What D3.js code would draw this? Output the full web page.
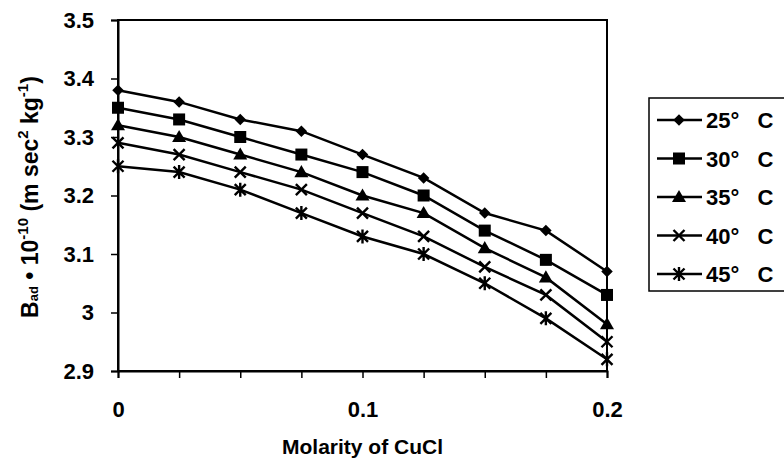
<!DOCTYPE html>
<html>
<head>
<meta charset="utf-8">
<script src="https://cdn.jsdelivr.net/npm/d3@7"></script>
<style>
  body { margin: 0; background: #fff; }
  svg { display: block; font-family: "Liberation Sans", Arial, sans-serif; font-weight: bold; }
</style>
</head>
<body>
<div id="chart"></div>
<script>
// data
var molarity = [0, 0.025, 0.05, 0.075, 0.1, 0.125, 0.15, 0.175, 0.2];
var temps = ["25° C", "30° C", "35° C", "40° C", "45° C"];
var b25 = [3.38, 3.36, 3.33, 3.31, 3.27, 3.23, 3.17, 3.14, 3.07];
var b30 = [3.35, 3.33, 3.30, 3.27, 3.24, 3.20, 3.14, 3.09, 3.03];
var b35 = [3.32, 3.30, 3.27, 3.24, 3.20, 3.17, 3.11, 3.06, 2.98];
var b40 = [3.29, 3.27, 3.24, 3.21, 3.17, 3.13, 3.078, 3.03, 2.95];
var b45 = [3.25, 3.24, 3.21, 3.17, 3.13, 3.10, 3.05, 2.99, 2.92];
var yTicks = [2.9, 3, 3.1, 3.2, 3.3, 3.4, 3.5];
var xTickLabels = [0, 0.1, 0.2];

var series = [b25, b30, b35, b40, b45];
var markers = ["diamond", "square", "triangle", "cross", "star"];

var width = 784, height = 458;
var margin = { top: 20, right: 177, bottom: 87, left: 118 };

var svg = d3.select("#chart").append("svg")
  .attr("width", width).attr("height", height);

var x = d3.scaleLinear().domain([0, 0.2]).range([margin.left, width - margin.right]);
var y = d3.scaleLinear().domain([2.9, 3.5]).range([height - margin.bottom, margin.top]);

// plot frame
svg.append("rect")
  .attr("x", x(0)).attr("y", y(3.5))
  .attr("width", x(0.2) - x(0)).attr("height", y(2.9) - y(3.5))
  .attr("fill", "none").attr("stroke", "#000").attr("stroke-width", 2);

// axes
var xAxis = d3.axisBottom(x).tickValues(molarity).tickSize(7)
  .tickFormat(function(d) { return xTickLabels.indexOf(d) >= 0 ? d3.format("")(d) : ""; });
svg.append("g").attr("transform", "translate(0," + y(2.9) + ")").call(xAxis)
  .call(function(g) {
    g.select(".domain").attr("stroke-width", 2);
    g.selectAll(".tick line").attr("stroke-width", 1.5);
    g.selectAll("text").attr("font-size", 22).attr("dy", 0).attr("y", 46).attr("fill", "#000")
      .style("font-family", "inherit");
  });

var yAxis = d3.axisLeft(y).tickValues(yTicks).tickSize(7).tickFormat(d3.format(""));
svg.append("g").attr("transform", "translate(" + x(0) + ",0)").call(yAxis)
  .call(function(g) {
    g.select(".domain").attr("stroke-width", 2);
    g.selectAll(".tick line").attr("stroke-width", 1.5);
    g.selectAll("text").attr("font-size", 22).attr("x", -24).attr("fill", "#000")
      .style("font-family", "inherit");
  });

// markers
function drawMarker(g, type, cx, cy) {
  if (type === "diamond") {
    g.append("path").attr("d", d3.symbol(d3.symbolDiamond2, 85)()).attr("transform", "translate(" + cx + "," + cy + ")").attr("fill", "#000");
  } else if (type === "square") {
    g.append("rect").attr("x", cx - 6).attr("y", cy - 6).attr("width", 12).attr("height", 12).attr("fill", "#000");
  } else if (type === "triangle") {
    g.append("path").attr("d", d3.symbol(d3.symbolTriangle, 85)()).attr("transform", "translate(" + cx + "," + (cy + 1) + ")").attr("fill", "#000");
  } else if (type === "cross") {
    g.append("path").attr("d", "M-5.5,-5.5L5.5,5.5M-5.5,5.5L5.5,-5.5").attr("transform", "translate(" + cx + "," + cy + ")")
      .attr("stroke", "#000").attr("stroke-width", 2.4);
  } else {
    g.append("path").attr("d", "M-5.5,-5.5L5.5,5.5M-5.5,5.5L5.5,-5.5M0,-7L0,7").attr("transform", "translate(" + cx + "," + cy + ")")
      .attr("stroke", "#000").attr("stroke-width", 2.4);
  }
}

var line = d3.line()
  .x(function(d, i) { return x(molarity[i]); })
  .y(function(d) { return y(d); });

series.forEach(function(vals, s) {
  svg.append("path").datum(vals).attr("d", line)
    .attr("fill", "none").attr("stroke", "#000").attr("stroke-width", 2.5);
  var g = svg.append("g");
  vals.forEach(function(v, i) { drawMarker(g, markers[s], x(molarity[i]), y(v)); });
});

// axis titles
svg.append("text").attr("x", (x(0) + x(0.2)) / 2).attr("y", 454)
  .attr("text-anchor", "middle").attr("font-size", 21).text("Molarity of CuCl");

var yt = svg.append("text").attr("transform", "translate(38," + 197 + ") rotate(-90)")
  .attr("text-anchor", "middle").attr("font-size", 23);
yt.append("tspan").text("B");
yt.append("tspan").attr("font-size", 13).text("ad");
yt.append("tspan").text(" \u2022 10");
yt.append("tspan").attr("font-size", 15).attr("dy", -10).text("-10");
yt.append("tspan").attr("dy", 10).text(" (m sec");
yt.append("tspan").attr("font-size", 15).attr("dy", -10).text("2");
yt.append("tspan").attr("dy", 10).text(" kg");
yt.append("tspan").attr("font-size", 15).attr("dy", -10).text("-1");
yt.append("tspan").attr("dy", 10).text(")");

// legend
var lg = svg.append("g");
lg.append("rect").attr("x", 649).attr("y", 98).attr("width", 150).attr("height", 193)
  .attr("fill", "none").attr("stroke", "#000").attr("stroke-width", 1.5);
temps.forEach(function(t, i) {
  var ly = 120 + i * 38.5;
  lg.append("line").attr("x1", 657).attr("x2", 702).attr("y1", ly).attr("y2", ly)
    .attr("stroke", "#000").attr("stroke-width", 2.5);
  drawMarker(lg, markers[i], 679, ly);
  lg.append("text").attr("x", 706).attr("y", ly + 8).attr("font-size", 22)
    .attr("xml:space", "preserve").style("white-space", "pre").text(t.replace(" ", "   "));
});
</script>
</body>
</html>
